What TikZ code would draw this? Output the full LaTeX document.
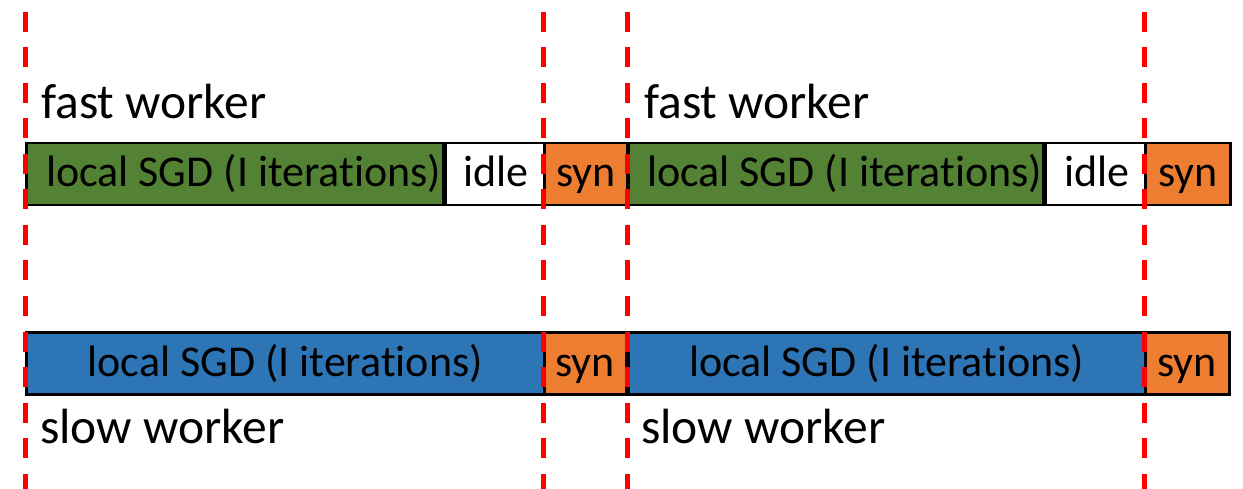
\documentclass[tikz,border=0pt]{standalone}
\usepackage{fontspec}
\setmainfont[Ligatures=NoCommon]{Carlito}
\definecolor{sgdgreen}{HTML}{548235}
\definecolor{sgdblue}{HTML}{2E75B6}
\definecolor{synorange}{HTML}{ED7D31}
\definecolor{syncred}{HTML}{FF0000}
\begin{document}
\begin{tikzpicture}[x=1pt,y=-1pt,
  seg/.style={draw=black,line width=2.5pt,inner sep=0pt,minimum height=62pt,
    text height=36pt,text depth=10pt,font=\fontsize{44}{47}\selectfont,anchor=west},
  work/.style={seg,fill=sgdgreen},
  slowwork/.style={seg,fill=sgdblue},
  idlebox/.style={seg,fill=white},
  synbox/.style={seg,fill=synorange},
  label/.style={inner sep=0pt,anchor=base west,font=\fontsize{49.5}{53}\selectfont},
  barrier/.style={draw=syncred,line width=5pt,dash pattern=on 20pt off 15.5pt}]
\useasboundingbox (0,0) rectangle (1243,489);
% fast worker, two rounds
\node[label] (fl1) at (41,119) {fast worker};
\node[label] (fl2) at (644,119) {fast worker};
\node[work,minimum width=417pt] (f1) at (25,174) {\hspace{18pt}local SGD (I iterations)};
\node[idlebox,minimum width=101pt] (i1) at (f1.east) {idle};
\node[synbox,minimum width=83pt] (s1) at (543,174) {syn};
\node[work,minimum width=415pt] (f2) at (627,174) {\hspace{18pt}local SGD (I iterations)};
\node[idlebox,minimum width=102pt] (i2) at (f2.east) {idle};
\node[synbox,minimum width=85pt] (s2) at (1144,174) {syn};
% slow worker, two rounds
\node[slowwork,minimum width=518pt] (b1) at (25,363.5) {local SGD (I iterations)};
\node[synbox,minimum width=82pt] (t1) at (543,363.5) {syn};
\node[slowwork,minimum width=517pt] (b2) at (627,363.5) {local SGD (I iterations)};
\node[synbox,minimum width=84pt] (t2) at (1144,363.5) {syn};
\node[label] (sl1) at (40,443) {slow worker};
\node[label] (sl2) at (641,443) {slow worker};
% synchronisation barriers
\coordinate (a0) at (25,12); \coordinate (a1) at (25,489);
\coordinate (b0) at (543,12); \coordinate (b1e) at (543,489);
\coordinate (c0) at (627,12); \coordinate (c1) at (627,489);
\coordinate (d0) at (1144,12); \coordinate (d1) at (1144,489);
\draw[barrier] (a0) -- (a1);
\draw[barrier] (b0) -- (b1e);
\draw[barrier] (c0) -- (c1);
\draw[barrier] (d0) -- (d1);
\end{tikzpicture}
\end{document}
